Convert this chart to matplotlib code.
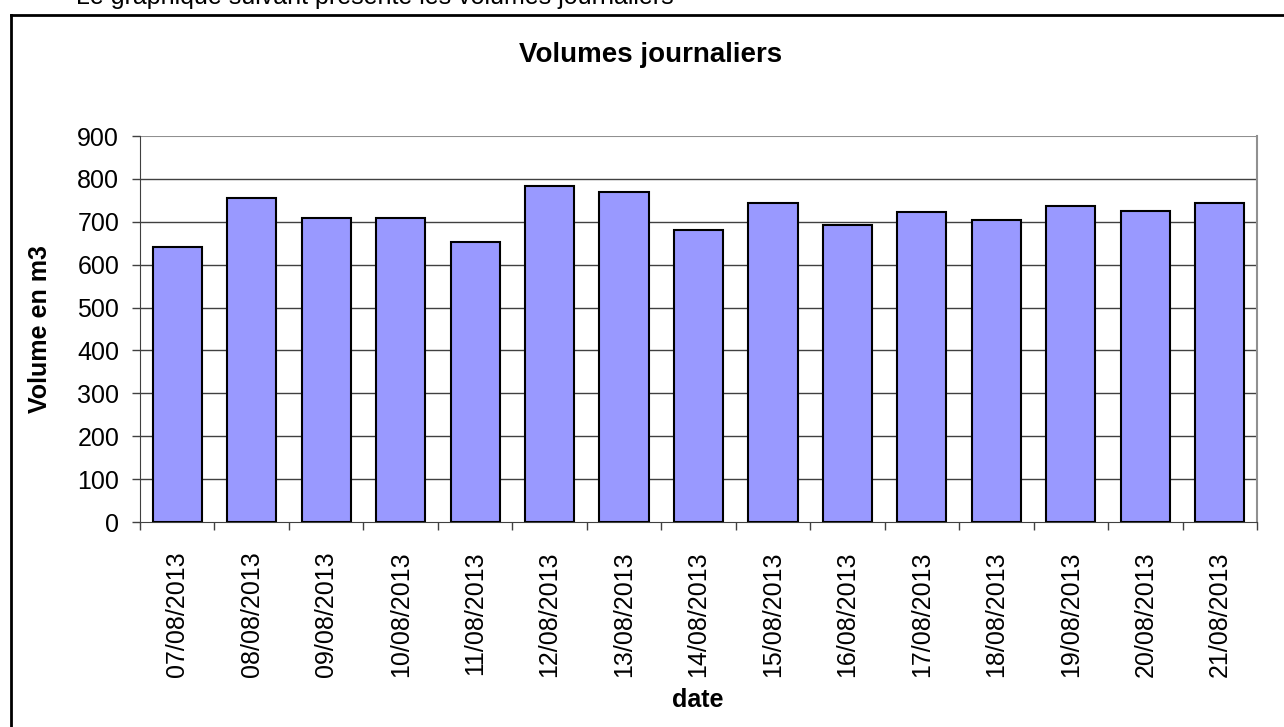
import numpy as np
import matplotlib.pyplot as plt
from matplotlib.lines import Line2D

plt.rcParams['font.family'] = ['Liberation Sans', 'DejaVu Sans']

dates = ['07/08/2013', '08/08/2013', '09/08/2013', '10/08/2013', '11/08/2013',
         '12/08/2013', '13/08/2013', '14/08/2013', '15/08/2013', '16/08/2013',
         '17/08/2013', '18/08/2013', '19/08/2013', '20/08/2013', '21/08/2013']
volumes = [641, 755, 708, 709, 653, 784, 769, 680, 743, 692, 722, 705, 737, 726, 743]

W, H = 1284, 727
fig = plt.figure(figsize=(W / 100, H / 100), dpi=100)
fig.patch.set_facecolor('white')

# caption line above the chart frame, cropped by the top edge as in the source
fig.text(76 / W, 1 - 4 / H, 'Le graphique suivant présente les volumes journaliers',
         fontsize=18, ha='left', va='baseline')

# outer chart frame (only left and top edges inside the picture)
fig.add_artist(Line2D([11 / W, 11 / W], [0, 1 - 15 / H], transform=fig.transFigure,
                      color='black', linewidth=2))
fig.add_artist(Line2D([11 / W, 1], [1 - 15 / H, 1 - 15 / H], transform=fig.transFigure,
                      color='black', linewidth=2))

ax = fig.add_axes([140 / W, 1 - 522 / H, (1257 - 140) / W, (522 - 136) / H])

x = np.arange(len(dates))
ax.bar(x, volumes, width=0.66, color='#9999FF', edgecolor='black', linewidth=1.5, zorder=3)

ax.set_xlim(-0.5, len(dates) - 0.5)
ax.set_ylim(0, 900)
ax.set_yticks(np.arange(0, 901, 100))
ax.set_xticks(x)
ax.set_xticklabels(dates, rotation=90, fontsize=18)
ax.set_xticks(np.arange(-0.5, len(dates), 1), minor=True)
ax.tick_params(axis='x', which='major', length=0, pad=21)
ax.tick_params(axis='x', which='minor', length=6, width=1, color='#404040', direction='out')
ax.tick_params(axis='y', length=6, width=1, color='#404040', labelsize=18, pad=9)

for v in range(100, 900, 100):
    ax.axhline(v, color='#404040', linewidth=1, zorder=1)
ax.axhline(900, color='#909090', linewidth=1.5, zorder=1)

ax.spines['top'].set_visible(False)
ax.spines['left'].set_color('#404040')
ax.spines['bottom'].set_color('#404040')
ax.spines['right'].set_color('#909090')
ax.spines['right'].set_linewidth(1.5)

# chart title, centred on the whole chart frame rather than on the plot area
fig.text(651 / W, 1 - 55 / H, 'Volumes journaliers', fontsize=20, fontweight='bold',
         ha='center', va='center')
ax.set_ylabel('Volume en m3', fontsize=18, fontweight='bold')
ax.yaxis.set_label_coords((52 - 140) / (1257 - 140), 0.5)
ax.set_xlabel('date', fontsize=18, fontweight='bold')
ax.xaxis.set_label_coords((698 - 140) / (1257 - 140), -(700 - 522) / 386)
ax.xaxis.label.set_verticalalignment('center')

plt.savefig('out.png', dpi=100, facecolor='white')
